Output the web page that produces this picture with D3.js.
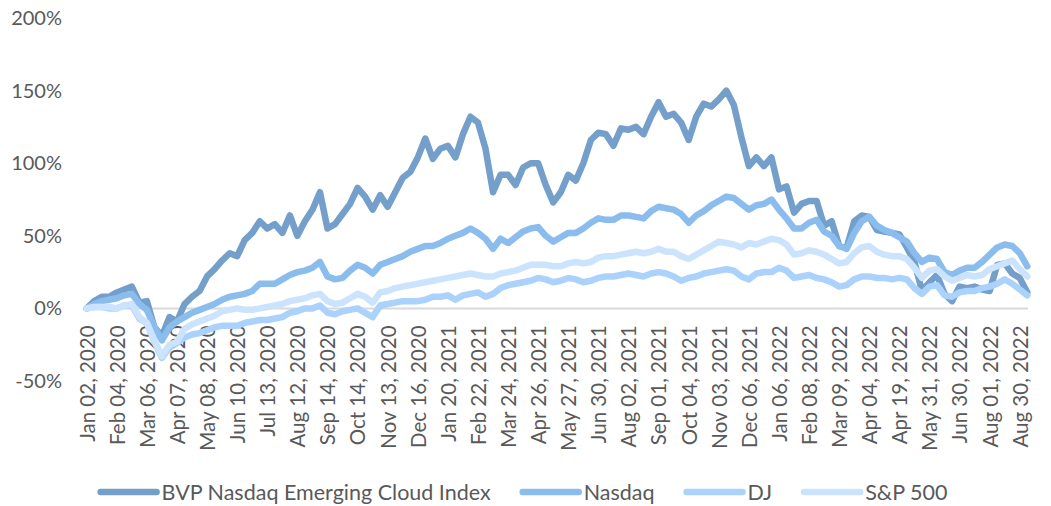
<!DOCTYPE html>
<html>
<head>
<meta charset="utf-8">
<script src="https://cdn.jsdelivr.net/npm/d3@7"></script>
<style>
  body { margin: 0; background: #fff; }
  text { font-family: Lato, "Open Sans", sans-serif; fill: #595959; }
</style>
</head>
<body>
<script>
// category labels (one every 4 points)
var dates = ["Jan 02, 2020", "Feb 04, 2020", "Mar 06, 2020", "Apr 07, 2020", "May 08, 2020", "Jun 10, 2020",
  "Jul 13, 2020", "Aug 12, 2020", "Sep 14, 2020", "Oct 14, 2020", "Nov 13, 2020", "Dec 16, 2020",
  "Jan 20, 2021", "Feb 22, 2021", "Mar 24, 2021", "Apr 26, 2021", "May 27, 2021", "Jun 30, 2021",
  "Aug 02, 2021", "Sep 01, 2021", "Oct 04, 2021", "Nov 03, 2021", "Dec 06, 2021", "Jan 06, 2022",
  "Feb 08, 2022", "Mar 09, 2022", "Apr 04, 2022", "Apr 19, 2022", "May 31, 2022", "Jun 30, 2022",
  "Aug 01, 2022", "Aug 30, 2022"];

var yTicks = [-50, 0, 50, 100, 150, 200];

var seriesNames = ["BVP Nasdaq Emerging Cloud Index", "Nasdaq", "DJ", "S&P 500"];

// cumulative return, %
var bvp = [0, 5, 8, 8, 11, 13, 15, 4, 5, -13, -19, -6, -9, 3, 8, 12, 22, 27, 33, 38,
  36, 47, 52, 60, 55, 58, 52, 64, 50, 60, 68, 80, 55, 58, 65, 72, 83, 77, 68, 78,
  70, 80, 90, 94, 104, 117, 103, 110, 112, 104, 120, 132, 128, 110, 80, 92, 92, 85, 97, 100,
  100, 85, 73, 80, 92, 88, 100, 116, 121, 120, 112, 124, 123, 125, 120, 132, 142, 132, 134, 128,
  116, 132, 141, 139, 144, 150, 140, 118, 98, 104, 98, 104, 82, 84, 66, 72, 74, 74, 57, 60,
  43, 42, 60, 64, 63, 54, 53, 52, 51, 42, 32, 12, 18, 23, 10, 5, 15, 14, 15, 13,
  12, 30, 31, 24, 21, 11];

var nasdaq = [0, 3, 5, 6, 7, 9, 10, 3, -1, -13, -22, -13, -9, -6, -3, -1, 1, 3, 6, 8,
  9, 10, 12, 17, 17, 17, 20, 23, 25, 26, 28, 32, 22, 20, 21, 26, 30, 28, 24, 30,
  32, 34, 36, 39, 41, 43, 43, 45, 48, 50, 52, 55, 52, 48, 41, 48, 45, 49, 53, 55,
  56, 50, 46, 49, 52, 52, 55, 59, 62, 61, 61, 64, 64, 63, 62, 67, 70, 69, 68, 65,
  59, 64, 67, 71, 74, 77, 76, 72, 68, 71, 72, 75, 68, 62, 55, 55, 59, 61, 53, 50,
  43, 41, 52, 60, 63, 57, 54, 52, 49, 46, 38, 32, 35, 34, 25, 23, 26, 28, 28, 32,
  37, 42, 44, 43, 38, 29];

var dj = [0, 1, 1, 0, 0, 2, 2, -7, -10, -23, -34, -27, -24, -20, -18, -17, -15, -13, -12, -12,
  -12, -10, -9, -8, -8, -7, -6, -3, -2, 0, 0, 2, -3, -4, -2, -1, 0, -3, -6, 2,
  3, 4, 5, 5, 5, 6, 8, 8, 9, 6, 9, 10, 11, 8, 10, 14, 16, 17, 18, 19,
  21, 20, 18, 19, 21, 20, 18, 19, 21, 22, 22, 23, 24, 23, 22, 24, 25, 24, 22, 19,
  21, 22, 24, 25, 26, 27, 26, 22, 20, 24, 25, 25, 28, 26, 21, 22, 23, 21, 20, 18,
  15, 16, 20, 22, 22, 21, 21, 20, 21, 20, 14, 10, 15, 16, 9, 8, 11, 12, 12, 14,
  15, 17, 20, 17, 13, 9];

var sp500 = [0, 1, 1, 1, 0, 2, 3, -6, -10, -22, -33, -25, -23, -14, -11, -9, -7, -5, -2, -1,
  0, -1, -1, 0, 1, 2, 3, 5, 6, 7, 9, 10, 5, 3, 4, 7, 10, 8, 4, 11,
  12, 14, 15, 16, 17, 18, 19, 20, 21, 22, 23, 24, 23, 22, 22, 24, 25, 26, 28, 30,
  30, 30, 29, 29, 31, 32, 31, 32, 35, 36, 36, 37, 38, 39, 38, 39, 41, 39, 39, 36,
  34, 37, 40, 43, 46, 45, 44, 42, 45, 44, 46, 48, 47, 44, 37, 38, 40, 39, 37, 34,
  31, 32, 38, 42, 43, 39, 37, 36, 36, 34, 28, 21, 26, 27, 22, 19, 21, 23, 22, 23,
  27, 29, 31, 33, 27, 22];

var colors = ["#739fca", "#8bbcee", "#aad2fc", "#cbe3fd"];
var width = 1051, height = 506;
var perLabel = 4;

var svg = d3.select("body").append("svg")
  .attr("width", width)
  .attr("height", height);

var x = d3.scaleLinear()
  .domain([0, bvp.length - 1])
  .range([86.7, 1027.3]);

var y = d3.scaleLinear()
  .domain([-50, 200])
  .range([381, 18]);

// y axis labels only
var yAxis = svg.append("g")
  .attr("transform", "translate(85,0)")
  .call(d3.axisLeft(y).tickValues(yTicks).tickSize(0).tickPadding(23)
    .tickFormat(function(d) { return d + "%"; }));
yAxis.select(".domain").remove();
yAxis.selectAll("text").style("font-size", "20px").style("font-family", "Lato, sans-serif").attr("fill", "#595959");

// zero line
svg.append("line")
  .attr("x1", 85).attr("x2", 1028)
  .attr("y1", y(0)).attr("y2", y(0))
  .attr("stroke", "#d9d9d9")
  .attr("stroke-width", 2);

// category axis
var xAxis = svg.append("g")
  .attr("transform", "translate(0," + y(0) + ")")
  .call(d3.axisBottom(x)
    .tickValues(dates.map(function(d, i) { return i * perLabel; }))
    .tickSize(0)
    .tickFormat(function(d) { return dates[d / perLabel]; }));
xAxis.select(".domain").remove();
xAxis.selectAll("text")
  .attr("transform", "rotate(-90)")
  .attr("text-anchor", "end")
  .attr("x", -17)
  .attr("y", 0)
  .attr("dy", "0.36em")
  .style("font-size", "20.5px")
  .style("font-family", "Lato, sans-serif")
  .attr("fill", "#595959");

var line = d3.line()
  .x(function(d, i) { return x(i); })
  .y(function(d) { return y(d); });

[bvp, nasdaq, dj, sp500].forEach(function(s, i) {
  svg.append("path")
    .datum(s)
    .attr("fill", "none")
    .attr("stroke", colors[i])
    .attr("stroke-width", 6.5)
    .attr("stroke-linejoin", "round")
    .attr("stroke-linecap", "round")
    .attr("d", line);
});

// legend, centred
var legend = svg.append("g").attr("transform", "translate(0,492)");
var items = legend.selectAll("g").data(seriesNames).enter().append("g");
items.append("line")
  .attr("x1", 0).attr("x2", 56)
  .attr("stroke", function(d, i) { return colors[i]; })
  .attr("stroke-width", 6.5)
  .attr("stroke-linecap", "round");
items.append("text")
  .attr("x", 61)
  .attr("dy", "0.35em")
  .style("font-size", "21.5px")
  .text(function(d) { return d; });
var offset = 0, gap = 32;
items.each(function() {
  var w = 61 + d3.select(this).select("text").node().getComputedTextLength();
  d3.select(this).attr("transform", "translate(" + offset + ",0)");
  offset += w + gap;
});
offset -= gap;
legend.attr("transform", "translate(" + (524 - offset / 2) + ",492)");
</script>
</body>
</html>
